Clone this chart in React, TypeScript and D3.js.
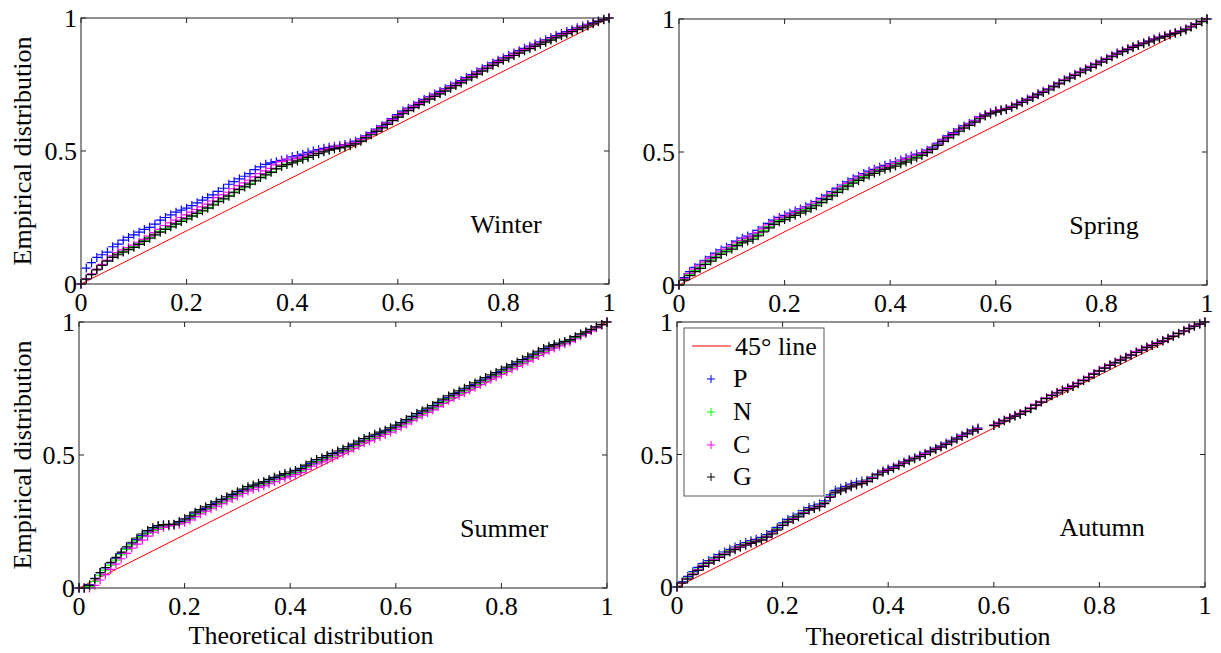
import React from "react";
import * as d3 from "d3";

// Theoretical distribution grid (shared by all series)
const xs = [
  0, .01, .02, .03, .04, .05, .06, .07, .08, .09,
  .1, .11, .12, .13, .14, .15, .16, .17, .18, .19,
  .2, .21, .22, .23, .24, .25, .26, .27, .28, .29,
  .3, .31, .32, .33, .34, .35, .36, .37, .38, .39,
  .4, .41, .42, .43, .44, .45, .46, .47, .48, .49,
  .5, .51, .52, .53, .54, .55, .56, .57, .58, .59,
  .6, .61, .62, .63, .64, .65, .66, .67, .68, .69,
  .7, .71, .72, .73, .74, .75, .76, .77, .78, .79,
  .8, .81, .82, .83, .84, .85, .86, .87, .88, .89,
  .9, .91, .92, .93, .94, .95, .96, .97, .98, .99,
  1,
];

// ---- Winter ----
const winterP = [
  0, .06, .08, .1, .11, .12, .14, .15, .165, .175,
  .185, .195, .205, .213, .225, .24, .25, .26, .27, .278,
  .285, .295, .305, .315, .325, .335, .348, .36, .375, .385,
  .395, .405, .415, .43, .44, .45, .455, .46, .465, .47,
  .478, .483, .488, .495, .5, .505, .51, .514, .518, .521,
  .524, .53, .537, .546, .557, .569, .582, .595, .608, .622,
  .637, .65, .661, .672, .683, .694, .704, .714, .724, .734,
  .745, .755, .765, .776, .787, .798, .809, .82, .831, .841,
  .85, .859, .868, .877, .886, .894, .902, .91, .918, .926,
  .934, .942, .949, .956, .963, .97, .976, .983, .989, .995,
  1,
];
const winterN = [
  0, .02, .037, .055, .072, .088, .102, .113, .123, .132,
  .141, .152, .163, .175, .188, .198, .208, .218, .228, .238,
  .248, .258, .268, .278, .288, .3, .313, .323, .333, .346,
  .358, .368, .378, .391, .403, .413, .423, .435, .444, .451,
  .457, .464, .471, .478, .485, .492, .499, .505, .51, .514,
  .517, .522, .529, .539, .551, .563, .576, .589, .602, .616,
  .629, .642, .654, .665, .676, .687, .697, .707, .717, .727,
  .738, .748, .758, .769, .78, .791, .802, .813, .824, .834,
  .843, .852, .861, .87, .879, .887, .895, .903, .911, .919,
  .927, .935, .943, .951, .958, .965, .972, .98, .988, .994,
  1,
];
const winterC = [
  0, .02, .038, .056, .074, .09, .106, .118, .128, .137,
  .146, .157, .168, .18, .193, .205, .22, .23, .24, .25,
  .26, .27, .28, .29, .3, .312, .325, .335, .345, .358,
  .37, .38, .39, .403, .415, .425, .435, .448, .46, .466,
  .466, .472, .478, .484, .49, .497, .504, .51, .515, .519,
  .522, .526, .532, .542, .554, .566, .579, .592, .605, .619,
  .632, .645, .657, .668, .679, .69, .7, .71, .72, .73,
  .741, .751, .761, .772, .783, .794, .805, .816, .827, .837,
  .846, .855, .864, .873, .882, .89, .898, .906, .914, .922,
  .93, .938, .946, .953, .96, .967, .974, .981, .988, .994,
  1,
];
const winterG = [
  0, .018, .035, .053, .07, .086, .1, .11, .12, .129,
  .138, .149, .16, .172, .185, .195, .205, .215, .225, .235,
  .245, .255, .265, .275, .285, .297, .31, .32, .33, .343,
  .355, .365, .375, .388, .4, .41, .42, .433, .442, .449,
  .455, .462, .469, .476, .483, .49, .497, .503, .508, .512,
  .515, .52, .527, .537, .549, .561, .574, .587, .6, .614,
  .627, .64, .652, .663, .674, .685, .695, .705, .715, .725,
  .736, .746, .756, .767, .778, .789, .8, .811, .822, .832,
  .841, .85, .859, .868, .877, .885, .893, .901, .909, .917,
  .925, .933, .941, .949, .956, .963, .97, .978, .986, .993,
  1,
];

// ---- Spring ----
const springP = [
  0, .028, .05, .066, .078, .093, .106, .12, .132, .142,
  .152, .165, .176, .184, .192, .205, .218, .232, .244, .254,
  .262, .27, .278, .286, .294, .304, .314, .326, .338, .351,
  .364, .376, .388, .399, .409, .419, .428, .435, .443, .45,
  .456, .463, .47, .477, .485, .492, .497, .507, .518, .533,
  .548, .561, .573, .586, .598, .608, .619, .632, .641, .648,
  .655, .659, .664, .672, .681, .69, .699, .709, .719, .728,
  .737, .749, .76, .772, .782, .792, .802, .812, .822, .832,
  .842, .852, .862, .872, .881, .889, .897, .904, .911, .918,
  .925, .932, .937, .943, .949, .955, .962, .972, .982, .991,
  1,
];
const springN = [
  0, .021, .04, .055, .067, .082, .095, .108, .12, .13,
  .14, .153, .163, .17, .177, .19, .205, .22, .233, .243,
  .251, .259, .267, .275, .283, .293, .303, .315, .327, .34,
  .353, .365, .377, .388, .398, .408, .418, .425, .433, .44,
  .445, .452, .46, .467, .475, .483, .492, .502, .513, .528,
  .543, .556, .568, .581, .593, .603, .615, .628, .638, .646,
  .652, .657, .662, .67, .679, .688, .697, .707, .717, .726,
  .735, .747, .758, .77, .78, .79, .8, .81, .82, .83,
  .84, .85, .86, .87, .879, .887, .895, .902, .909, .916,
  .923, .93, .936, .942, .948, .954, .961, .971, .981, .99,
  1,
];
const springC = [
  0, .024, .044, .06, .072, .087, .1, .113, .125, .135,
  .145, .158, .168, .176, .184, .197, .212, .226, .238, .248,
  .256, .264, .272, .28, .288, .298, .308, .32, .332, .345,
  .358, .37, .382, .393, .403, .413, .422, .43, .438, .445,
  .45, .457, .465, .472, .48, .487, .494, .504, .515, .53,
  .545, .558, .57, .583, .595, .605, .617, .63, .639, .647,
  .654, .658, .663, .671, .68, .689, .698, .708, .718, .727,
  .736, .748, .759, .771, .781, .791, .801, .811, .821, .831,
  .841, .851, .861, .871, .88, .888, .896, .903, .91, .917,
  .924, .931, .937, .943, .949, .955, .962, .972, .982, .991,
  1,
];
const springG = [
  0, .018, .035, .05, .062, .077, .09, .103, .115, .125,
  .135, .148, .158, .165, .172, .185, .2, .215, .228, .238,
  .246, .254, .262, .27, .278, .288, .298, .31, .322, .335,
  .348, .36, .372, .383, .393, .403, .413, .42, .428, .435,
  .44, .447, .455, .462, .47, .478, .487, .498, .51, .525,
  .54, .553, .565, .578, .59, .6, .612, .625, .635, .643,
  .65, .655, .66, .668, .677, .686, .695, .705, .715, .724,
  .733, .745, .756, .768, .778, .788, .798, .808, .818, .828,
  .838, .848, .858, .868, .877, .885, .893, .9, .907, .914,
  .921, .928, .934, .94, .946, .952, .959, .97, .98, .99,
  1,
];

// ---- Summer ----
const summerP = [
  0, 0, .012, .036, .058, .076, .094, .112, .13, .15,
  .166, .182, .197, .21, .221, .23, .234, .236, .238, .246,
  .255, .266, .279, .289, .299, .308, .318, .327, .337, .346,
  .356, .366, .375, .381, .388, .394, .402, .41, .418, .424,
  .43, .436, .444, .456, .468, .477, .484, .492, .5, .509,
  .517, .525, .535, .546, .556, .564, .572, .58, .587, .596,
  .606, .616, .627, .639, .65, .66, .67, .68, .692, .704,
  .716, .726, .735, .745, .755, .765, .775, .785, .795, .804,
  .814, .824, .834, .844, .853, .863, .873, .884, .894, .903,
  .91, .917, .924, .931, .942, .952, .96, .97, .98, .99,
  1,
];
const summerN = [
  0, 0, .005, .025, .048, .067, .086, .105, .125, .145,
  .162, .178, .193, .206, .217, .225, .23, .233, .236, .243,
  .251, .261, .275, .285, .295, .304, .314, .323, .333, .342,
  .352, .362, .371, .377, .384, .39, .398, .406, .414, .42,
  .426, .432, .44, .452, .464, .473, .48, .488, .496, .505,
  .513, .521, .531, .542, .552, .56, .568, .576, .583, .592,
  .602, .612, .623, .635, .646, .656, .666, .676, .688, .7,
  .712, .722, .731, .741, .751, .761, .771, .781, .791, .8,
  .81, .82, .83, .84, .849, .859, .869, .88, .89, .899,
  .907, .914, .921, .929, .94, .951, .959, .969, .979, .989,
  1,
];
const summerC = [
  0, 0, 0, .01, .03, .05, .07, .09, .11, .13,
  .15, .165, .18, .195, .21, .22, .228, .233, .237, .24,
  .247, .256, .268, .279, .289, .298, .308, .317, .327, .336,
  .346, .356, .365, .371, .378, .384, .392, .4, .408, .414,
  .42, .426, .434, .446, .458, .467, .474, .482, .49, .499,
  .507, .515, .525, .536, .546, .554, .562, .57, .577, .586,
  .596, .606, .617, .629, .64, .65, .66, .67, .682, .694,
  .706, .716, .725, .735, .745, .755, .765, .775, .785, .794,
  .804, .814, .824, .834, .843, .853, .863, .874, .884, .894,
  .902, .91, .918, .926, .937, .948, .957, .967, .978, .989,
  1,
];
const summerG = [
  0, 0, .01, .035, .058, .077, .096, .115, .135, .155,
  .172, .188, .203, .216, .227, .235, .238, .239, .24, .25,
  .26, .271, .285, .295, .305, .314, .324, .333, .343, .352,
  .362, .372, .381, .387, .394, .4, .408, .416, .424, .43,
  .436, .442, .45, .462, .474, .483, .49, .498, .506, .515,
  .523, .531, .541, .552, .562, .57, .578, .586, .593, .602,
  .612, .622, .633, .645, .656, .666, .676, .686, .698, .71,
  .722, .732, .741, .751, .761, .771, .781, .791, .801, .81,
  .82, .83, .84, .85, .859, .869, .879, .89, .9, .909,
  .915, .921, .927, .934, .945, .955, .963, .972, .982, .991,
  1,
];

// ---- Autumn ----
const autumnP = [
  0, .02, .04, .058, .074, .089, .1, .11, .122, .132,
  .142, .151, .16, .168, .175, .18, .187, .198, .21, .225,
  .242, .255, .265, .275, .288, .3, .306, .313, .325, .348,
  .365, .373, .38, .388, .395, .4, .403, .415, .428, .438,
  .445, .453, .463, .472, .481, .489, .497, .505, .515, .524,
  .533, .543, .553, .563, .573, .583, .593, .6, null, null,
  .61, .619, .628, .638, .646, .653, .663, .674, .687, .699,
  .712, .723, .733, .742, .75, .758, .768, .78, .791, .804,
  .816, .827, .837, .847, .857, .866, .876, .886, .895, .904,
  .912, .92, .929, .938, .947, .957, .967, .976, .985, .993,
  1,
];
const autumnN = [
  0, .018, .035, .052, .068, .083, .095, .105, .117, .127,
  .137, .146, .155, .163, .17, .175, .182, .193, .205, .22,
  .237, .25, .26, .27, .283, .295, .301, .308, .32, .343,
  .36, .368, .375, .383, .39, .395, .402, .414, .427, .437,
  .443, .451, .461, .47, .479, .487, .495, .503, .513, .522,
  .531, .541, .551, .561, .571, .581, .591, .598, null, null,
  .611, .62, .629, .639, .647, .654, .664, .675, .688, .7,
  .713, .724, .734, .743, .751, .759, .769, .781, .792, .805,
  .817, .828, .838, .848, .858, .867, .877, .887, .896, .905,
  .913, .921, .93, .939, .948, .958, .968, .977, .986, .993,
  1,
];
const autumnC = [
  0, .017, .033, .05, .066, .081, .093, .103, .115, .125,
  .135, .144, .153, .161, .168, .173, .18, .191, .203, .218,
  .235, .248, .258, .268, .281, .293, .299, .306, .318, .341,
  .358, .366, .373, .381, .388, .393, .401, .413, .426, .436,
  .443, .451, .461, .47, .479, .487, .495, .503, .513, .522,
  .531, .541, .551, .561, .571, .581, .591, .598, null, null,
  .612, .621, .63, .64, .648, .655, .665, .676, .689, .701,
  .714, .725, .735, .744, .752, .76, .77, .782, .793, .806,
  .818, .829, .839, .849, .859, .868, .878, .888, .897, .906,
  .914, .922, .93, .939, .948, .958, .968, .977, .986, .993,
  1,
];
const autumnG = [
  0, .015, .03, .047, .063, .078, .09, .1, .112, .122,
  .132, .141, .15, .158, .165, .17, .177, .188, .2, .215,
  .232, .245, .255, .265, .278, .29, .296, .303, .315, .338,
  .355, .363, .37, .378, .385, .39, .398, .41, .423, .433,
  .44, .448, .458, .467, .476, .484, .492, .5, .51, .519,
  .528, .538, .548, .558, .568, .578, .588, .595, null, null,
  .609, .618, .627, .637, .645, .652, .662, .673, .686, .698,
  .711, .722, .732, .741, .749, .757, .767, .779, .79, .803,
  .815, .826, .836, .846, .856, .865, .875, .885, .894, .903,
  .911, .919, .928, .937, .946, .956, .966, .975, .984, .992,
  1,
];

const seasons = ["Winter", "Spring", "Summer", "Autumn"];
const seriesNames = ["P", "N", "C", "G"];
const seriesColors = ["#0000ff", "#00ff00", "#ff00ff", "#000000"];
const panelSeries = [
  [winterP, winterN, winterC, winterG],
  [springP, springN, springC, springG],
  [summerP, summerN, summerC, summerG],
  [autumnP, autumnN, autumnC, autumnG],
];
const xTickValues = [0, 0.2, 0.4, 0.6, 0.8, 1];
const yTickValues = [0, 0.5, 1];
const refLine = [0, 1];

const FONT = "'Liberation Serif','Times New Roman',Times,serif";
const FS = 26;

const layout = [
  { left: 81, top: 18, right: 609, bottom: 284, yLabel: true, xLabel: null },
  { left: 679, top: 19, right: 1207, bottom: 285, yLabel: false, xLabel: null },
  { left: 79, top: 322, right: 607, bottom: 588, yLabel: true, xLabel: { x: 311, y: 644 } },
  { left: 677, top: 322, right: 1205, bottom: 587, yLabel: false, xLabel: { x: 928, y: 645 } },
];

function fmt(v: number) {
  return v === 0 ? "0" : v === 1 ? "1" : String(v);
}

function Panel({ idx }: { idx: number }) {
  const L = layout[idx];
  const x = d3.scaleLinear().domain([0, 1]).range([L.left, L.right]);
  const y = d3.scaleLinear().domain([0, 1]).range([L.bottom, L.top]);
  const lineGen = d3.line<number>().x((d) => x(d)).y((d) => y(d));
  const H = 4.5;
  const markerPath = (vals: (number | null)[]) => {
    let s = "";
    vals.forEach((v, i) => {
      if (v === null || v === undefined) return;
      const cx = x(xs[i]);
      const cy = y(v);
      s += `M${cx - H},${cy}H${cx + H}M${cx},${cy - H}V${cy + H}`;
    });
    return s;
  };
  const tickLen = 5;
  return (
    <g>
      <rect x={L.left} y={L.top} width={L.right - L.left} height={L.bottom - L.top} fill="#fff" />
      <path d={lineGen(refLine) || ""} stroke="#ff0000" strokeWidth={1} fill="none" />
      {panelSeries[idx].map((vals, si) => (
        <path key={si} d={markerPath(vals)} stroke={seriesColors[si]} strokeWidth={1.2} fill="none" />
      ))}
      <rect
        x={L.left}
        y={L.top}
        width={L.right - L.left}
        height={L.bottom - L.top}
        fill="none"
        stroke="#222"
        strokeWidth={1}
      />
      {xTickValues.map((t) => (
        <g key={"xt" + t}>
          <line x1={x(t)} x2={x(t)} y1={L.bottom} y2={L.bottom - tickLen} stroke="#222" />
          <line x1={x(t)} x2={x(t)} y1={L.top} y2={L.top + tickLen} stroke="#222" />
          <text
            x={x(t)}
            y={L.bottom + 27}
            textAnchor="middle"
            fontFamily={FONT}
            fontSize={FS}
            fill="#000"
          >
            {fmt(t)}
          </text>
        </g>
      ))}
      {yTickValues.map((t) => (
        <g key={"yt" + t}>
          <line x1={L.left} x2={L.left + tickLen} y1={y(t)} y2={y(t)} stroke="#222" />
          <line x1={L.right} x2={L.right - tickLen} y1={y(t)} y2={y(t)} stroke="#222" />
          <text
            x={L.left - 4}
            y={y(t) + 9}
            textAnchor="end"
            fontFamily={FONT}
            fontSize={FS}
            fill="#000"
          >
            {fmt(t)}
          </text>
        </g>
      ))}
      <text
        x={x(0.805)}
        y={L.bottom - 51}
        textAnchor="middle"
        fontFamily={FONT}
        fontSize={FS}
        fill="#000"
      >
        {seasons[idx]}
      </text>
      {L.yLabel && (
        <text
          transform={`translate(31,${(L.top + L.bottom) / 2}) rotate(-90)`}
          textAnchor="middle"
          fontFamily={FONT}
          fontSize={FS}
          fill="#000"
        >
          Empirical distribution
        </text>
      )}
      {L.xLabel && (
        <text
          x={L.xLabel.x}
          y={L.xLabel.y}
          textAnchor="middle"
          fontFamily={FONT}
          fontSize={FS}
          fill="#000"
        >
          Theoretical distribution
        </text>
      )}
    </g>
  );
}

function Legend() {
  const bx = 684;
  const by = 328;
  const rows = [379, 412, 445, 477];
  return (
    <g>
      <rect x={bx} y={by} width={140} height={168} fill="#fff" stroke="#555" strokeWidth={1} />
      <line x1={692} x2={731} y1={346} y2={346} stroke="#ff0000" strokeWidth={1} />
      <text x={735} y={355} fontFamily={FONT} fontSize={FS} fill="#000">
        45° line
      </text>
      {seriesNames.map((n, i) => (
        <g key={n}>
          <path
            d={`M${711 - 4},${rows[i]}H${711 + 4}M${711},${rows[i] - 4}V${rows[i] + 4}`}
            stroke={seriesColors[i]}
            strokeWidth={1}
          />
          <text x={733} y={rows[i] + 8} fontFamily={FONT} fontSize={FS} fill="#000">
            {n}
          </text>
        </g>
      ))}
    </g>
  );
}

export default function App() {
  return (
    <div style={{ position: "absolute", left: 0, top: 0 }}>
      <svg width={1221} height={653} style={{ display: "block", background: "#fff" }}>
        <rect x={0} y={0} width={1221} height={653} fill="#fff" />
        {[0, 1, 2, 3].map((i) => (
          <Panel key={i} idx={i} />
        ))}
        <Legend />
      </svg>
    </div>
  );
}
